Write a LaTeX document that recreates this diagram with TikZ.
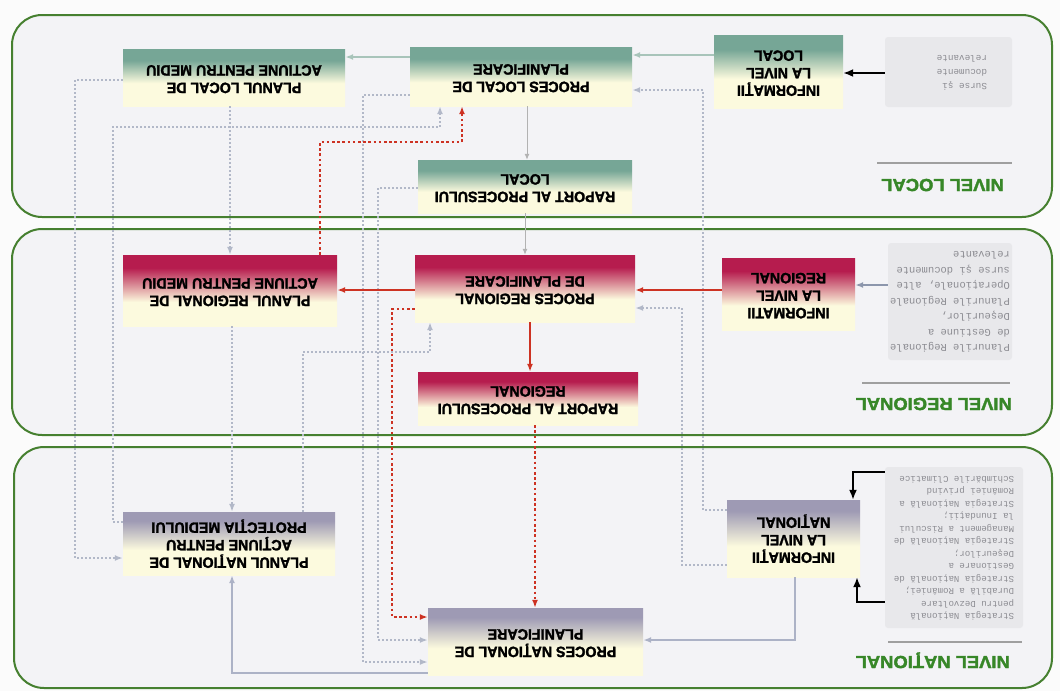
\documentclass[tikz,border=0pt]{standalone}
\usepackage{fontspec}
\usepackage{graphicx}
\newfontfamily\boxfont{Liberation Sans}[FakeStretch=0.95,FakeBold=1.8]
\newfontfamily\ttlfont{Liberation Sans}[FakeStretch=1.05,FakeBold=2]
\newfontfamily\notefont{Liberation Mono}
\usetikzlibrary{arrows.meta,backgrounds,positioning,calc}

\definecolor{lvlgreen}{RGB}{70,128,48}
\definecolor{ttlgreen}{RGB}{55,135,40}
\definecolor{panelbg}{RGB}{243,243,246}
\definecolor{locdark}{RGB}{118,166,150}
\definecolor{regdark}{RGB}{182,28,78}
\definecolor{natdark}{RGB}{158,154,180}
\definecolor{boxlight}{RGB}{252,250,222}
\definecolor{dotgray}{RGB}{178,184,200}
\definecolor{reddot}{RGB}{205,50,35}
\definecolor{locline}{RGB}{168,196,186}
\definecolor{natline}{RGB}{172,178,198}
\definecolor{reggray}{RGB}{140,150,172}
\definecolor{notefill}{RGB}{232,232,235}
\definecolor{notetext}{RGB}{140,140,146}

\pgfdeclareverticalshading{locshade}{100bp}{color(0bp)=(boxlight); color(25bp)=(boxlight); color(45bp)=(boxlight); color(65bp)=(locdark); color(100bp)=(locdark)}
\pgfdeclareverticalshading{regshade}{100bp}{color(0bp)=(boxlight); color(25bp)=(boxlight); color(42bp)=(boxlight); color(66bp)=(regdark); color(100bp)=(regdark)}
\pgfdeclareverticalshading{natshade}{100bp}{color(0bp)=(boxlight); color(25bp)=(boxlight); color(45bp)=(boxlight); color(68bp)=(natdark); color(100bp)=(natdark)}

% text turned upside down, as in the scan
\newcommand{\updown}[2][c]{\rotatebox[origin=c]{180}{\begin{tabular}{@{}#1@{}}#2\end{tabular}}}
\newcommand{\noteup}[2]{\rotatebox[origin=c]{180}{\makebox[#1][l]{\begin{tabular}{@{}l@{}}#2\end{tabular}}}}

\begin{document}
\begin{tikzpicture}
            [x=1pt,y=-1pt,>={Latex[length=8pt,width=6pt]},
            panel/.style={draw=lvlgreen,line width=2pt,fill=panelbg,rounded corners=30pt},
            box/.style={inner sep=0pt,font=\boxfont\fontsize{15}{17.5}\selectfont\bfseries},
            locbox/.style={box,shading=locshade},
            regbox/.style={box,shading=regshade},
            natbox/.style={box,shading=natshade},
            notebox/.style={fill=notefill,rounded corners=3pt,inner sep=0pt,text=notetext},
            lvlttl/.style={inner sep=0pt,text=ttlgreen,font=\ttlfont\fontsize{17.5}{20}\selectfont\bfseries},
            ttlrule/.style={draw=gray!75,line width=1.6pt},
            locarrow/.style={->,draw=locline,line width=2pt},
            thinarrow/.style={->,draw=gray!60,line width=1pt,>={Latex[length=6pt,width=5pt]}},
            natarrow/.style={->,draw=natline,line width=2pt},
            redarrow/.style={->,draw=reddot,line width=2.4pt},
            grayarrow/.style={->,draw=reggray,line width=2pt},
            blkarrow/.style={->,line width=1.8pt,>={Latex[length=10pt,width=8pt]}},
            dotline/.style={->,draw=dotgray,line width=1.6pt,dash pattern=on 1.6pt off 2.4pt},
            reddotline/.style={->,draw=reddot,line width=2.6pt,dash pattern=on 2.6pt off 2.6pt}
            ]
            \useasboundingbox (0,0) rectangle (1060,691);
            \fill[white!97!gray] (0,0) rectangle (1060,691);
            % the three levels
            \draw[panel] (12,15) rectangle (1052,217);
            \draw[panel] (12,229) rectangle (1052,435);
            \draw[panel] (14,447) rectangle (1052,688);
            \node[lvlttl,anchor=east] (ttlloc) at (1004,183) {\updown{NIVEL LOCAL}};
            \node[lvlttl,anchor=east] (ttlreg) at (1012,402) {\updown{NIVEL REGIONAL}};
            \node[lvlttl,anchor=east] (ttlnat) at (1010,660) {\updown{NIVEL NAŢIONAL}};
            \draw[ttlrule] (877,163) -- (1012,163);
            \draw[ttlrule] (862,383) -- (1010,383);
            \draw[ttlrule] (888,642) -- (1022,642);
            % sources
            \node[notebox,minimum width=127,minimum height=70,font=\notefont\fontsize{9.3}{14}\selectfont] (notloc) at (948.5,72) {\noteup{77pt}{Surse şi\\documente\\relevante}};
            \node[notebox,minimum width=124,minimum height=117,font=\notefont\fontsize{10.5}{15.5}\selectfont] (notreg) at (950,301.5) {\updown[l]{Planurile Regionale\\de Gestiune a\\Deşeurilor,\\Planurile Regionale\\Operaţionale, alte\\surse şi documente\\relevante}};
            \node[notebox,minimum width=138,minimum height=161,font=\notefont\fontsize{9.1}{12.5}\selectfont] (notnat) at (954,547.5) {\updown[l]{Strategia Naţională\\pentru Dezvoltare\\Durabilă a României;\\Strategia Naţională de\\Gestionare a\\Deşeurilor;\\Strategia Naţională de\\Management a Riscului\\la Inundaţii;\\Strategia Naţională a\\României privind\\Schimbările Climatice}};
            % local
            \node[locbox,minimum width=222,minimum height=57] (plnloc) at (234,77.5) {\updown{PLANUL LOCAL DE\\ACTIUNE PENTRU MEDIU}};
            \node[locbox,minimum width=222,minimum height=59] (procloc) at (521,76.5) {\updown{PROCES LOCAL DE\\PLANIFICARE}};
            \node[locbox,minimum width=129,minimum height=73] (infloc) at (778.5,71.5) {\updown{INFORMAŢII\\LA NIVEL\\LOCAL}};
            \node[locbox,minimum width=214,minimum height=53] (raploc) at (525,186.5) {\updown{RAPORT AL PROCESULUI\\LOCAL}};
            % regional
            \node[regbox,minimum width=214,minimum height=71] (plnreg) at (230,290.5) {\updown{PLANUL REGIONAL DE\\ACTIUNE PENTRU MEDIU}};
            \node[regbox,minimum width=220,minimum height=67] (procreg) at (525,288.5) {\updown{PROCES REGIONAL\\DE PLANIFICARE}};
            \node[regbox,minimum width=133,minimum height=72] (infreg) at (788.5,294) {\updown{INFORMATII\\LA NIVEL\\REGIONAL}};
            \node[regbox,minimum width=220,minimum height=53] (rapreg) at (528,398.5) {\updown{RAPORT AL PROCESULUI\\REGIONAL}};
            % national
            \node[natbox,minimum width=212,minimum height=63] (plnnat) at (229,543.5) {\updown{PLANUL NAŢIONAL DE\\ACŢIUNE PENTRU\\PROTECŢIA MEDIULUI}};
            \node[natbox,minimum width=215,minimum height=67] (procnat) at (535.5,641.5) {\updown{PROCES NAŢIONAL DE\\PLANIFICARE}};
            \node[natbox,minimum width=133,minimum height=77] (infnat) at (793.5,538.5) {\updown{INFORMAŢII\\LA NIVEL\\NAŢIONAL}};
            % dotted links
            \draw[dotline] (plnloc.west |- 0,80) -| (75,558) -- (plnnat.west |- 0,558);
            \draw[dotline] (plnnat.west |- 0,522) -| (113,127) -| (procloc.south -| 440,0);
            \draw[dotline] (plnloc.south -| 230,0) -- (plnreg.north -| 230,0);
            \draw[dotline] (plnreg.south -| 232,0) -- (plnnat.north -| 232,0);
            \draw[dotline] (procloc.west |- 0,95) -| (363,662) -- (procnat.west |- 0,662);
            \draw[dotline] (raploc.west |- 0,188) -| (378,640) -- (procnat.west |- 0,640);
            \draw[dotline] (plnnat.north -| 303,0) |- (430,352) -- (procreg.south -| 430,0);
            \draw[dotline] (infnat.west |- 0,510) -| (703,90) -- (procloc.east |- 0,90);
            \draw[dotline] (infnat.west |- 0,565) -| (682,308) -- (procreg.east |- 0,308);
            \draw[reddotline] (plnreg.north -| 320,0) |- (462,142) -- (procloc.south -| 462,0);
            \draw[reddotline] (procreg.west |- 0,309) -| (392,617) -- (procnat.west |- 0,617);
            \draw[reddotline] (rapreg.south -| 535,0) -- (procnat.north -| 535,0);
            % solid links
            \draw[locarrow] (infloc.west |- 0,55) -- (procloc.east |- 0,55);
            \draw[locarrow] (procloc.west |- 0,57) -- (plnloc.east |- 0,57);
            \draw[thinarrow] (procloc.south -| 527,0) -- (raploc.north -| 527,0);
            \draw[thinarrow] (raploc.south -| 525,0) -- (procreg.north -| 525,0);
            \draw[blkarrow] (notloc.west |- 0,73) -- (infloc.east |- 0,73);
            \draw[redarrow] (infreg.west |- 0,290) -- (procreg.east |- 0,290);
            \draw[redarrow] (procreg.west |- 0,290) -- (plnreg.east |- 0,290);
            \draw[grayarrow] (notreg.west |- 0,285) -- (infreg.east |- 0,285);
            \draw[redarrow] (procreg.south -| 530,0) -- (rapreg.north -| 530,0);
            \draw[natarrow] (infnat.south -| 795,0) |- (procnat.east |- 0,640);
            \draw[natarrow] (procnat.west |- 0,673) -| (plnnat.south -| 232,0);
            \draw[blkarrow] (notnat.west |- 0,472) -| (infnat.north -| 853,0);
            \draw[blkarrow] (notnat.west |- 0,602) -| (infnat.south -| 857,0);
          \end{tikzpicture}
\end{document}
